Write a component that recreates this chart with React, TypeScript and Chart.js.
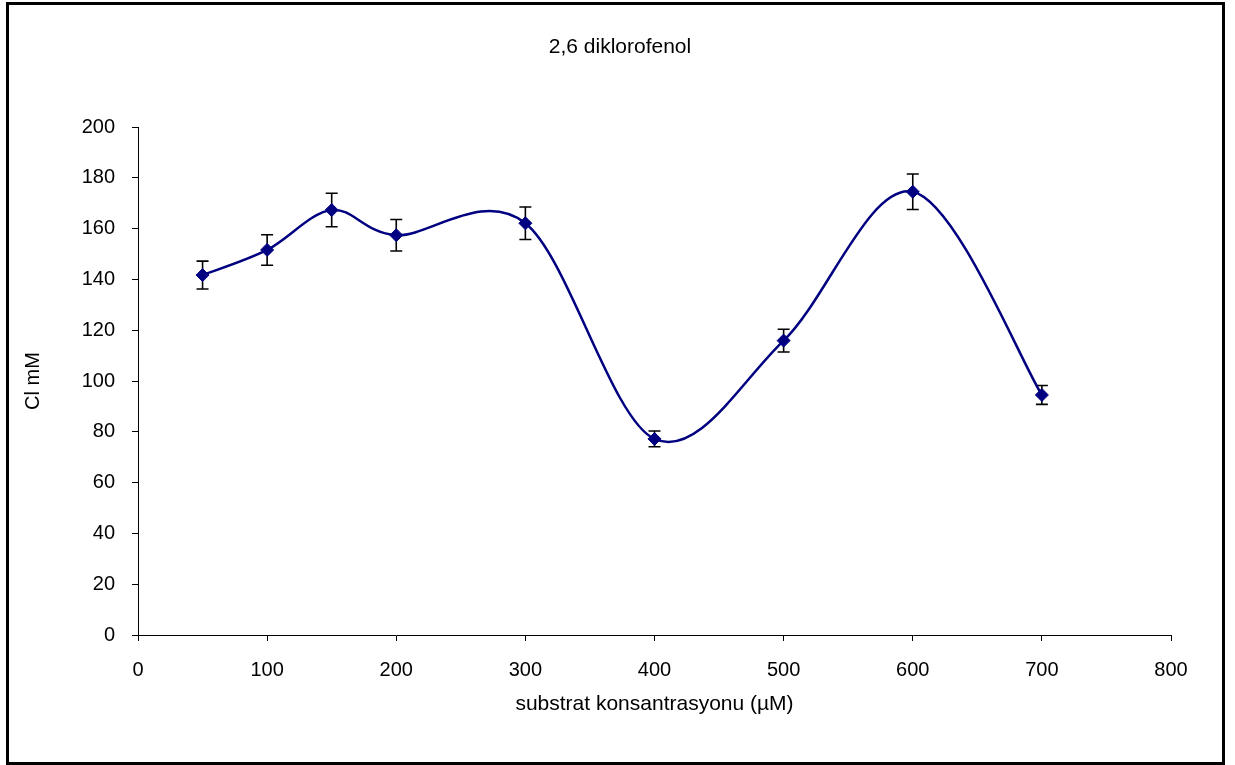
import React, { useEffect, useRef } from 'react';
import { Chart, registerables } from 'chart.js';

Chart.register(...registerables);

// Data
const concentrations = [50, 100, 150, 200, 300, 400, 500, 600, 700];
const clValues = [141.7, 151.6, 167.3, 157.4, 162.1, 77.2, 115.9, 174.5, 94.5];
const clErrors = [5.5, 6.0, 6.6, 6.2, 6.4, 3.1, 4.5, 7.0, 3.7];

const chartTitle = '2,6 diklorofenol';
const xTitle = 'substrat konsantrasyonu (µM)';
const yTitle = 'Cl mM';

const xMin = 0;
const xMax = 800;
const xStep = 100;
const yMin = 0;
const yMax = 200;
const yStep = 20;

const FONT = "'Liberation Sans', Arial, Helvetica, sans-serif";

// Error bars drawn from the data through the chart's scales
const errorBarPlugin = {
  id: 'errorBars',
  beforeDatasetsDraw(chart: any) {
    const { ctx, scales } = chart;
    const xs = scales.x;
    const ys = scales.y;
    ctx.save();
    ctx.strokeStyle = '#000000';
    ctx.lineWidth = 1.6;
    const cap = 6;
    concentrations.forEach((xv, i) => {
      const px = xs.getPixelForValue(xv);
      const top = ys.getPixelForValue(clValues[i] + clErrors[i]);
      const bot = ys.getPixelForValue(clValues[i] - clErrors[i]);
      ctx.beginPath();
      ctx.moveTo(px, top);
      ctx.lineTo(px, bot);
      ctx.moveTo(px - cap, top);
      ctx.lineTo(px + cap, top);
      ctx.moveTo(px - cap, bot);
      ctx.lineTo(px + cap, bot);
      ctx.stroke();
    });
    ctx.restore();
  },
};

// Excel-like smoothing: uniform Catmull-Rom control points (1/6 of neighbour span)
const smoothPlugin = {
  id: 'excelSmooth',
  beforeDatasetDraw(chart: any, args: any) {
    const meta = args.meta;
    const line = meta.dataset;
    if (!line) return;
    line.updateControlPoints(chart.chartArea, meta.iScale.axis);
    const pts = meta.data;
    const n = pts.length;
    for (let i = 0; i < n; i++) {
      const cur = pts[i];
      const prev = pts[Math.max(0, i - 1)];
      const next = pts[Math.min(n - 1, i + 1)];
      const dx = (next.x - prev.x) / 6;
      const dy = (next.y - prev.y) / 6;
      cur.cp1x = cur.x - dx;
      cur.cp1y = cur.y - dy;
      cur.cp2x = cur.x + dx;
      cur.cp2y = cur.y + dy;
    }
    line._path = undefined;
  },
};

// Chart title, centred on the page like the reference
const titlePlugin = {
  id: 'pageTitle',
  afterDraw(chart: any) {
    const { ctx } = chart;
    ctx.save();
    ctx.fillStyle = '#000000';
    ctx.font = `21px ${FONT}`;
    ctx.textAlign = 'center';
    ctx.textBaseline = 'middle';
    ctx.fillText(chartTitle, 611, 42);
    ctx.restore();
  },
};

export default function App() {
  const canvasRef = useRef<HTMLCanvasElement | null>(null);

  useEffect(() => {
    if (!canvasRef.current) return;
    const chart = new Chart(canvasRef.current, {
      type: 'line',
      data: {
        datasets: [
          {
            data: concentrations.map((x, i) => ({ x, y: clValues[i] })),
            borderColor: '#000080',
            backgroundColor: '#000080',
            borderWidth: 2.5,
            tension: 0.4,
            pointStyle: 'rectRot',
            pointRadius: 6.5,
            pointBorderWidth: 1,
            pointBackgroundColor: '#000080',
            pointBorderColor: '#000080',
            fill: false,
          },
        ],
      },
      options: {
        responsive: false,
        animation: false,
        events: [],
        layout: { padding: { left: 0, right: 51, top: 122, bottom: 0 } },
        plugins: {
          legend: { display: false },
          tooltip: { enabled: false },
          title: { display: false },
        },
        scales: {
          x: {
            type: 'linear',
            min: xMin,
            max: xMax,
            afterFit(scale: any) {
              scale.height = 127;
            },
            grid: {
              display: true,
              drawOnChartArea: false,
              drawTicks: true,
              tickLength: 6,
              color: '#000000',
            },
            border: { display: true, color: '#000000', width: 1 },
            ticks: {
              stepSize: xStep,
              color: '#000000',
              padding: 17,
              maxRotation: 0,
              font: { family: FONT, size: 20 },
            },
            title: {
              display: true,
              text: xTitle,
              color: '#000000',
              font: { family: FONT, size: 21 },
              padding: { top: 0, bottom: 45 },
            },
          },
          y: {
            type: 'linear',
            min: yMin,
            max: yMax,
            afterFit(scale: any) {
              scale.width = 129;
            },
            grid: {
              display: true,
              drawOnChartArea: false,
              drawTicks: true,
              tickLength: 6,
              color: '#000000',
            },
            border: { display: true, color: '#000000', width: 1 },
            ticks: {
              stepSize: yStep,
              color: '#000000',
              padding: 17,
              font: { family: FONT, size: 20 },
            },
            title: {
              display: true,
              text: yTitle,
              color: '#000000',
              font: { family: FONT, size: 20 },
              padding: { top: 12, bottom: 0 },
            },
          },
        },
      },
      plugins: [errorBarPlugin, smoothPlugin, titlePlugin],
    } as any);
    return () => chart.destroy();
  }, []);

  return (
    <div
      style={{
        position: 'absolute',
        left: 6,
        top: 2,
        width: 1219,
        height: 763,
        border: '3px solid #000000',
        boxSizing: 'border-box',
        background: '#ffffff',
      }}
    >
      <canvas ref={canvasRef} width={1213} height={757} style={{ display: 'block' }} />
    </div>
  );
}
